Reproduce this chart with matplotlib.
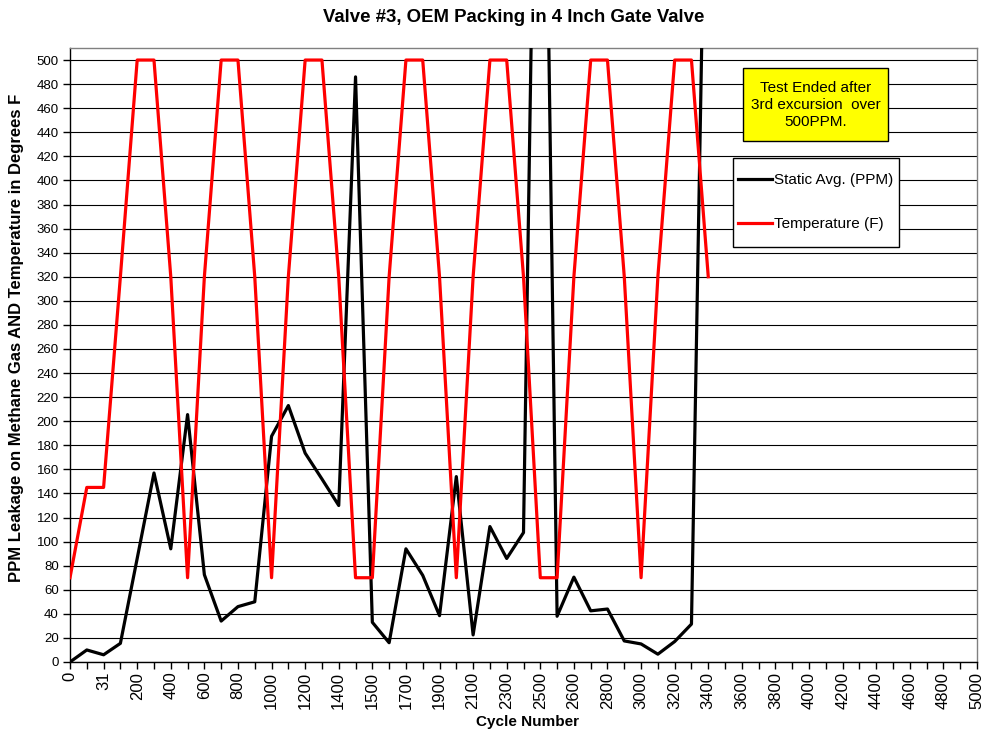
import matplotlib
matplotlib.use("Agg")
import matplotlib.pyplot as plt
from matplotlib.patches import Rectangle

plt.rcParams['font.family'] = ['Liberation Sans', 'DejaVu Sans']

# ---- data ----
cycles = ["0", "15", "31", "100", "200", "300", "400", "500", "600", "700",
          "800", "900", "1000", "1100", "1200", "1300", "1400", "1450", "1500", "1600",
          "1700", "1800", "1900", "2000", "2100", "2200", "2300", "2400", "2500", "2550",
          "2600", "2700", "2800", "2900", "3000", "3100", "3200", "3300", "3400", "3500",
          "3600", "3700", "3800", "3900", "4000", "4100", "4200", "4300", "4400", "4500",
          "4600", "4700", "4800", "4900", "5000"]

static_ppm = [0, 10, 6, 15.5, 86, 157, 94, 205.5, 72.5, 34,
              46, 50, 187.5, 213, 173.5, 152, 130, 486, 33, 16,
              94, 72, 38.5, 154, 22.5, 112.5, 86, 107.5, 1000, 38,
              70.5, 42.5, 44, 17.5, 15, 6.5, 17, 31.5, 820]

temperature = [70, 145, 145, 320, 500, 500, 320, 70, 320, 500,
               500, 320, 70, 320, 500, 500, 320, 70, 70, 320,
               500, 500, 320, 70, 320, 500, 500, 320, 70, 70,
               320, 500, 500, 320, 70, 320, 500, 500, 320]

y_ticks = list(range(0, 501, 20))

title = "Valve #3, OEM Packing in 4 Inch Gate Valve"
x_label = "Cycle Number"
y_label = "PPM Leakage on Methane Gas AND Temperature in Degrees F"
note = "Test Ended after\n3rd excursion  over\n500PPM."

# ---- figure ----
W, H = 989, 734
fig = plt.figure(figsize=(W / 100, H / 100), dpi=100)
L, R, T, B = 70, 977, 48, 662
ax = fig.add_axes([L / W, 1 - B / H, (R - L) / W, (B - T) / H])

xs = list(range(len(cycles)))
l1, = ax.plot(xs[:len(static_ppm)], static_ppm, color='black', lw=2.3,
              label='Static Avg. (PPM)', zorder=3)
l2, = ax.plot(xs[:len(temperature)], temperature, color='#FF0000', lw=2.3,
              label='Temperature (F)', zorder=3)

ax.set_xlim(0, len(cycles) - 1)
ax.set_ylim(0, 510)
ax.set_yticks(y_ticks)
ax.set_yticklabels([str(v) for v in y_ticks], fontsize=9.5)
ax.set_xticks(xs)
ax.set_xticklabels([c if i % 2 == 0 else '' for i, c in enumerate(cycles)],
                   rotation=90, fontsize=12)
ax.tick_params(axis='both', direction='out', length=5, width=1, color='black', pad=3)
ax.tick_params(axis='x', pad=2)

ax.grid(axis='y', color='black', lw=0.8, zorder=1)
ax.set_axisbelow(True)
for s in ['top', 'right']:
    ax.spines[s].set_color('#808080')
    ax.spines[s].set_linewidth(1)
for s in ['left', 'bottom']:
    ax.spines[s].set_color('black')
    ax.spines[s].set_linewidth(1)

fig.text(514 / W, 1 - 18 / H, title, ha='center', va='center',
         fontsize=13.4, fontweight='bold')
fig.text(527 / W, 1 - 722 / H, x_label, ha='center', va='center',
         fontsize=11, fontweight='bold')
fig.text(17 / W, 1 - 338 / H, y_label, ha='center', va='center',
         rotation=90, fontsize=12, fontweight='bold')

# annotation box
rect = Rectangle((743.3 / W, 1 - 141 / H), (887.7 - 743.3) / W, (141 - 68.3) / H,
                 transform=fig.transFigure, facecolor='#FFFF00', edgecolor='black',
                 lw=1, zorder=5)
fig.patches.append(rect)
fig.text(815.5 / W, 1 - 105 / H, note, ha='center', va='center', fontsize=11,
         linespacing=1.3, zorder=6)

# legend frame + entries
frame = Rectangle((732.7 / W, 1 - 246.7 / H), (899.3 - 732.7) / W, (246.7 - 158.3) / H,
                  transform=fig.transFigure, facecolor='white', edgecolor='black',
                  lw=1, zorder=4)
fig.patches.append(frame)
leg = fig.legend(handles=[l1, l2], loc='center left',
                 bbox_to_anchor=(738 / W, 1 - 202 / H),
                 bbox_transform=fig.transFigure, fontsize=11, frameon=False,
                 handlelength=2.2, handletextpad=0.15, labelspacing=1.95,
                 borderpad=0, borderaxespad=0)
leg.set_zorder(6)

fig.savefig('out.png', dpi=100)
